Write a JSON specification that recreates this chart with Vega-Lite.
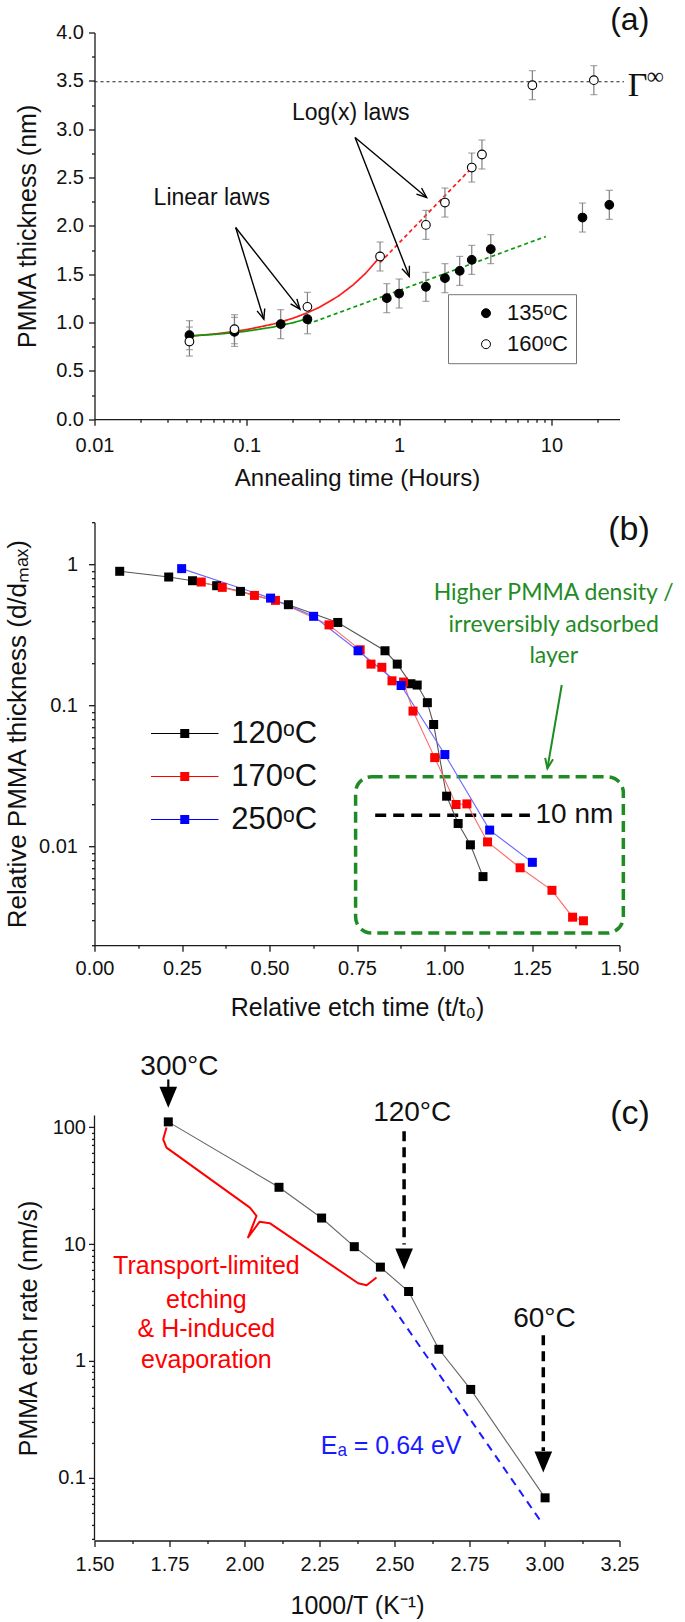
{
  "$schema": "https://vega.github.io/schema/vega-lite/v6.json",
  "background": "white",
  "padding": {"left": 3.5, "top": 3.5, "right": 0, "bottom": 0},
  "bounds": "flush",
  "spacing": 102.7,
  "resolve": {
    "scale": {"fill": "independent", "stroke": "independent", "color": "independent", "strokeDash": "independent"},
    "legend": {"fill": "independent", "stroke": "independent", "color": "independent"}
  },
  "config": {
    "view": {"stroke": null},
    "axis": {"grid": false, "domainColor": "#1a1a1a", "tickColor": "#1a1a1a", "domainWidth": 1.3, "tickWidth": 1.3,
      "labelFont": "Liberation Sans", "labelFontSize": 20, "labelColor": "#111", "titleFont": "Liberation Sans",
      "titleFontWeight": "normal", "titleFontSize": 25, "titleColor": "#111", "labelFlush": false, "labelOverlap": false},
    "legend": {"labelFont": "Liberation Sans", "labelColor": "#111", "labelLimit": 0},
    "text": {"font": "Liberation Sans"}
  },
  "datasets": {
    "a_points": [
      {"t": 0.042, "d": 0.869, "err": 0.15, "series": "135ᵒC"},
      {"t": 0.083, "d": 0.903, "err": 0.15, "series": "135ᵒC"},
      {"t": 0.167, "d": 0.983, "err": 0.15, "series": "135ᵒC"},
      {"t": 0.25, "d": 1.034, "err": 0.15, "series": "135ᵒC"},
      {"t": 0.83, "d": 1.252, "err": 0.15, "series": "135ᵒC"},
      {"t": 1.0, "d": 1.30, "err": 0.15, "series": "135ᵒC"},
      {"t": 1.5, "d": 1.369, "err": 0.15, "series": "135ᵒC"},
      {"t": 2.0, "d": 1.459, "err": 0.15, "series": "135ᵒC"},
      {"t": 2.5, "d": 1.534, "err": 0.15, "series": "135ᵒC"},
      {"t": 3.0, "d": 1.648, "err": 0.15, "series": "135ᵒC"},
      {"t": 4.0, "d": 1.759, "err": 0.15, "series": "135ᵒC"},
      {"t": 16, "d": 2.086, "err": 0.15, "series": "135ᵒC"},
      {"t": 24, "d": 2.217, "err": 0.15, "series": "135ᵒC"},
      {"t": 0.042, "d": 0.803, "err": 0.15, "series": "160ᵒC"},
      {"t": 0.083, "d": 0.931, "err": 0.15, "series": "160ᵒC"},
      {"t": 0.25, "d": 1.162, "err": 0.15, "series": "160ᵒC"},
      {"t": 0.75, "d": 1.683, "err": 0.15, "series": "160ᵒC"},
      {"t": 1.5, "d": 2.01, "err": 0.15, "series": "160ᵒC"},
      {"t": 2.0, "d": 2.241, "err": 0.15, "series": "160ᵒC"},
      {"t": 3.0, "d": 2.603, "err": 0.15, "series": "160ᵒC"},
      {"t": 3.5, "d": 2.738, "err": 0.15, "series": "160ᵒC"},
      {"t": 7.5, "d": 3.455, "err": 0.15, "series": "160ᵒC"},
      {"t": 19, "d": 3.507, "err": 0.15, "series": "160ᵒC"}
    ],
    "a_fits": [
      {"t": 0.042, "d": 0.860, "temp": "160", "law": "linear", "seg": "L160"},
      {"t": 0.06, "d": 0.880, "temp": "160", "law": "linear", "seg": "L160"},
      {"t": 0.08, "d": 0.904, "temp": "160", "law": "linear", "seg": "L160"},
      {"t": 0.1, "d": 0.927, "temp": "160", "law": "linear", "seg": "L160"},
      {"t": 0.15, "d": 0.985, "temp": "160", "law": "linear", "seg": "L160"},
      {"t": 0.2, "d": 1.043, "temp": "160", "law": "linear", "seg": "L160"},
      {"t": 0.25, "d": 1.101, "temp": "160", "law": "linear", "seg": "L160"},
      {"t": 0.3, "d": 1.158, "temp": "160", "law": "linear", "seg": "L160"},
      {"t": 0.4, "d": 1.274, "temp": "160", "law": "linear", "seg": "L160"},
      {"t": 0.5, "d": 1.390, "temp": "160", "law": "linear", "seg": "L160"},
      {"t": 0.6, "d": 1.506, "temp": "160", "law": "linear", "seg": "L160"},
      {"t": 0.75, "d": 1.680, "temp": "160", "law": "linear", "seg": "L160"},
      {"t": 0.042, "d": 0.860, "temp": "135", "law": "linear", "seg": "L135"},
      {"t": 0.06, "d": 0.876, "temp": "135", "law": "linear", "seg": "L135"},
      {"t": 0.08, "d": 0.893, "temp": "135", "law": "linear", "seg": "L135"},
      {"t": 0.1, "d": 0.911, "temp": "135", "law": "linear", "seg": "L135"},
      {"t": 0.15, "d": 0.954, "temp": "135", "law": "linear", "seg": "L135"},
      {"t": 0.2, "d": 0.997, "temp": "135", "law": "linear", "seg": "L135"},
      {"t": 0.25, "d": 1.040, "temp": "135", "law": "linear", "seg": "L135"},
      {"t": 0.75, "d": 1.62, "temp": "160", "law": "log", "seg": "G160"},
      {"t": 3.13, "d": 2.63, "temp": "160", "law": "log", "seg": "G160"},
      {"t": 0.25, "d": 0.983, "temp": "135", "law": "log", "seg": "G135"},
      {"t": 9.2, "d": 1.89, "temp": "135", "law": "log", "seg": "G135"}
    ],
    "a_gamma": [{"t": 0.01, "t2": 30, "d": 3.49}],
    "a_arrows": [
      {"t": 0.514, "d": 2.914, "t2": 1.517, "d2": 2.293},
      {"t": 0.514, "d": 2.914, "t2": 1.167, "d2": 1.476},
      {"t": 0.0845, "d": 1.983, "t2": 0.1294, "d2": 1.034},
      {"t": 0.0845, "d": 1.983, "t2": 0.2233, "d2": 1.138}
    ],
    "a_heads": [
      {"t": 1.517, "d": 2.293, "id": "a1"},
      {"t": 1.167, "d": 1.476, "id": "a2"},
      {"t": 0.1294, "d": 1.034, "id": "a3"},
      {"t": 0.2233, "d": 1.138, "id": "a4"}
    ],
    "a_text": [
      {"t": 0.481, "d": 3.166, "label": "Log(x) laws", "kind": "law"},
      {"t": 0.0589, "d": 2.29, "label": "Linear laws", "kind": "law"},
      {"t": 32.7, "d": 4.127, "label": "(a)", "kind": "panel"},
      {"t": 31.7, "d": 3.341, "label": "Γ", "kind": "gamma"},
      {"t": 42.2, "d": 3.465, "label": "∞", "kind": "inf"}
    ],
    "b_points": [
      {"etch_time": 0.072, "rel_thick": 0.897, "temp": "120ᵒC"},
      {"etch_time": 0.212, "rel_thick": 0.817, "temp": "120ᵒC"},
      {"etch_time": 0.280, "rel_thick": 0.769, "temp": "120ᵒC"},
      {"etch_time": 0.349, "rel_thick": 0.709, "temp": "120ᵒC"},
      {"etch_time": 0.417, "rel_thick": 0.646, "temp": "120ᵒC"},
      {"etch_time": 0.554, "rel_thick": 0.520, "temp": "120ᵒC"},
      {"etch_time": 0.695, "rel_thick": 0.389, "temp": "120ᵒC"},
      {"etch_time": 0.830, "rel_thick": 0.245, "temp": "120ᵒC"},
      {"etch_time": 0.865, "rel_thick": 0.197, "temp": "120ᵒC"},
      {"etch_time": 0.904, "rel_thick": 0.143, "temp": "120ᵒC"},
      {"etch_time": 0.922, "rel_thick": 0.140, "temp": "120ᵒC"},
      {"etch_time": 0.951, "rel_thick": 0.105, "temp": "120ᵒC"},
      {"etch_time": 0.969, "rel_thick": 0.0735, "temp": "120ᵒC"},
      {"etch_time": 1.006, "rel_thick": 0.0228, "temp": "120ᵒC"},
      {"etch_time": 1.039, "rel_thick": 0.0146, "temp": "120ᵒC"},
      {"etch_time": 1.074, "rel_thick": 0.0103, "temp": "120ᵒC"},
      {"etch_time": 1.110, "rel_thick": 0.00613, "temp": "120ᵒC"},
      {"etch_time": 0.305, "rel_thick": 0.753, "temp": "170ᵒC"},
      {"etch_time": 0.365, "rel_thick": 0.690, "temp": "170ᵒC"},
      {"etch_time": 0.457, "rel_thick": 0.605, "temp": "170ᵒC"},
      {"etch_time": 0.517, "rel_thick": 0.558, "temp": "170ᵒC"},
      {"etch_time": 0.670, "rel_thick": 0.374, "temp": "170ᵒC"},
      {"etch_time": 0.759, "rel_thick": 0.249, "temp": "170ᵒC"},
      {"etch_time": 0.790, "rel_thick": 0.197, "temp": "170ᵒC"},
      {"etch_time": 0.821, "rel_thick": 0.187, "temp": "170ᵒC"},
      {"etch_time": 0.850, "rel_thick": 0.150, "temp": "170ᵒC"},
      {"etch_time": 0.883, "rel_thick": 0.147, "temp": "170ᵒC"},
      {"etch_time": 0.910, "rel_thick": 0.0915, "temp": "170ᵒC"},
      {"etch_time": 0.972, "rel_thick": 0.0428, "temp": "170ᵒC"},
      {"etch_time": 1.033, "rel_thick": 0.0199, "temp": "170ᵒC"},
      {"etch_time": 1.064, "rel_thick": 0.0201, "temp": "170ᵒC"},
      {"etch_time": 1.123, "rel_thick": 0.0108, "temp": "170ᵒC"},
      {"etch_time": 1.216, "rel_thick": 0.00708, "temp": "170ᵒC"},
      {"etch_time": 1.307, "rel_thick": 0.0049, "temp": "170ᵒC"},
      {"etch_time": 1.366, "rel_thick": 0.00316, "temp": "170ᵒC"},
      {"etch_time": 1.397, "rel_thick": 0.00298, "temp": "170ᵒC"},
      {"etch_time": 0.249, "rel_thick": 0.937, "temp": "250ᵒC"},
      {"etch_time": 0.503, "rel_thick": 0.579, "temp": "250ᵒC"},
      {"etch_time": 0.626, "rel_thick": 0.430, "temp": "250ᵒC"},
      {"etch_time": 0.753, "rel_thick": 0.245, "temp": "250ᵒC"},
      {"etch_time": 0.876, "rel_thick": 0.139, "temp": "250ᵒC"},
      {"etch_time": 1.001, "rel_thick": 0.0450, "temp": "250ᵒC"},
      {"etch_time": 1.129, "rel_thick": 0.0131, "temp": "250ᵒC"},
      {"etch_time": 1.251, "rel_thick": 0.00774, "temp": "250ᵒC"}
    ],
    "b_box": [{"etch_time": 0.746, "etch_time2": 1.511, "rel_thick": 0.0313, "rel_thick2": 0.00244}],
    "b_tennm": [{"etch_time": 0.802, "etch_time2": 1.244, "rel_thick": 0.0167}],
    "b_arrow": [{"etch_time": 1.335, "rel_thick": 0.140, "etch_time2": 1.294, "rel_thick2": 0.0359}],
    "b_head": [{"etch_time": 1.294, "rel_thick": 0.0359}],
    "b_text": [
      {"etch_time": 1.312, "rel_thick": 0.564, "label": "Higher PMMA density /", "kind": "green"},
      {"etch_time": 1.312, "rel_thick": 0.332, "label": "irreversibly adsorbed", "kind": "green"},
      {"etch_time": 1.312, "rel_thick": 0.2, "label": "layer", "kind": "green"},
      {"etch_time": 1.26, "rel_thick": 0.0167, "label": "10 nm", "kind": "nm"},
      {"etch_time": 1.527, "rel_thick": 1.75, "label": "(b)", "kind": "panel"}
    ],
    "c_points": [
      {"inv_T": 1.746, "rate": 111},
      {"inv_T": 2.115, "rate": 30.6},
      {"inv_T": 2.257, "rate": 16.7},
      {"inv_T": 2.366, "rate": 9.5},
      {"inv_T": 2.453, "rate": 6.35},
      {"inv_T": 2.547, "rate": 3.93},
      {"inv_T": 2.648, "rate": 1.259},
      {"inv_T": 2.754, "rate": 0.571},
      {"inv_T": 3.002, "rate": 0.0675}
    ],
    "c_axis": [{"inv_T": 1.5, "rate": 0.02913, "rate2": 126}],
    "c_fit": [{"inv_T": 2.464, "rate": 3.73}, {"inv_T": 2.986, "rate": 0.0431}],
    "c_brace": [
      {"inv_T": 1.740, "rate": 99.3, "k": 1},
      {"inv_T": 1.729, "rate": 78.8, "k": 2},
      {"inv_T": 1.740, "rate": 66.9, "k": 3},
      {"inv_T": 2.018, "rate": 20.5, "k": 4},
      {"inv_T": 2.040, "rate": 17.4, "k": 5},
      {"inv_T": 2.012, "rate": 11.4, "k": 6},
      {"inv_T": 2.050, "rate": 15.5, "k": 7},
      {"inv_T": 2.084, "rate": 15.1, "k": 8},
      {"inv_T": 2.379, "rate": 4.62, "k": 9},
      {"inv_T": 2.407, "rate": 4.44, "k": 10},
      {"inv_T": 2.440, "rate": 5.17, "k": 11}
    ],
    "c_shafts": [
      {"inv_T": 1.746, "rate": 256, "rate2": 205, "id": "300"},
      {"inv_T": 2.532, "rate": 92.4, "rate2": 9.9, "id": "120"},
      {"inv_T": 2.996, "rate": 1.66, "rate2": 0.17, "id": "60"}
    ],
    "c_heads": [
      {"inv_T": 1.746, "rate": 146.6},
      {"inv_T": 2.532, "rate": 6.07},
      {"inv_T": 2.996, "rate": 0.111}
    ],
    "c_text": [
      {"inv_T": 1.783, "rate": 329, "label": "300°C", "kind": "temp"},
      {"inv_T": 2.559, "rate": 131, "label": "120°C", "kind": "temp"},
      {"inv_T": 3.0, "rate": 2.27, "label": "60°C", "kind": "temp"},
      {"inv_T": 3.285, "rate": 128.5, "label": "(c)", "kind": "panel"},
      {"inv_T": 1.873, "rate": 6.5, "label": "Transport-limited", "kind": "red"},
      {"inv_T": 1.873, "rate": 3.31, "label": "etching", "kind": "red"},
      {"inv_T": 1.873, "rate": 1.87, "label": "& H-induced", "kind": "red"},
      {"inv_T": 1.873, "rate": 1.02, "label": "evaporation", "kind": "red"},
      {"inv_T": 2.489, "rate": 0.1875, "label": "Eₐ = 0.64 eV", "kind": "blue"}
    ]
  },
  "vconcat": [
    {
      "width": 525,
      "height": 386.7,
      "encoding": {
        "x": {"field": "t", "type": "quantitative",
          "scale": {"type": "log", "domain": [0.01, 28], "nice": false},
          "axis": {"title": "Annealing time (Hours)",
            "values": [0.01,0.02,0.03,0.04,0.05,0.06,0.07,0.08,0.09,0.1,0.2,0.3,0.4,0.5,0.6,0.7,0.8,0.9,1,2,3,4,5,6,7,8,9,10,20],
            "labelExpr": "indexof([0.01,0.1,1,10], datum.value) >= 0 ? '' + datum.value : ''",
            "tickSize": {"condition": {"test": "indexof([0.01,0.1,1,10], datum.value) >= 0", "value": 6}, "value": 3},
            "labelPadding": 10, "titleY": 66.7, "titleBaseline": "alphabetic", "titleFontSize": 24}},
        "y": {"field": "d", "type": "quantitative",
          "scale": {"domain": [0, 4], "nice": false, "zero": false},
          "axis": {"title": "PMMA thickness (nm)",
            "values": [0,0.25,0.5,0.75,1,1.25,1.5,1.75,2,2.25,2.5,2.75,3,3.25,3.5,3.75,4],
            "labelExpr": "datum.value % 0.5 == 0 ? format(datum.value, '.1f') : ''",
            "tickSize": {"condition": {"test": "datum.value % 0.5 == 0", "value": 6}, "value": 3},
            "labelPadding": 5, "titleX": -59, "titleBaseline": "alphabetic", "titleFontSize": 25}}
      },
      "layer": [
        {"data": {"name": "a_gamma"}, "mark": {"type": "rule", "strokeDash": [3, 3], "color": "#222", "strokeWidth": 1.1},
          "encoding": {"x2": {"field": "t2"}}},
        {"data": {"name": "a_fits"}, "mark": {"type": "line", "strokeWidth": 1.7},
          "encoding": {
            "stroke": {"field": "temp", "type": "nominal", "scale": {"domain": ["135", "160"], "range": ["#0c9a0c", "#ff1a1a"]}, "legend": null},
            "strokeDash": {"field": "law", "type": "nominal", "scale": {"domain": ["linear", "log"], "range": [[1, 0], [4, 3]]}, "legend": null},
            "detail": {"field": "seg"}}},
        {"data": {"name": "a_points"}, "mark": {"type": "errorbar", "ticks": {"size": 7}, "color": "#808080", "thickness": 1.2},
          "encoding": {"yError": {"field": "err"}}},
        {"data": {"name": "a_points"}, "mark": {"type": "point", "shape": "circle", "size": 75, "filled": true, "stroke": "black", "strokeWidth": 1.1, "opacity": 1},
          "encoding": {"fill": {"field": "series", "type": "nominal",
            "scale": {"domain": ["135ᵒC", "160ᵒC"], "range": ["black", "white"]},
            "legend": {"title": null, "orient": "none", "legendX": 353.5, "legendY": 261.7, "strokeColor": "#777", "fillColor": "white",
              "padding": 8, "rowPadding": 9, "symbolType": "circle", "symbolSize": 80, "symbolStrokeColor": "black", "symbolStrokeWidth": 1,
              "symbolOffset": 19, "labelOffset": 10, "labelFontSize": 22}}}},
        {"data": {"name": "a_arrows"}, "mark": {"type": "rule", "color": "black", "strokeWidth": 1.4},
          "encoding": {"x2": {"field": "t2"}, "y2": {"field": "d2"}}},
        {"data": {"name": "a_heads"}, "transform": [{"filter": "datum.id == 'a1'"}],
          "mark": {"type": "point", "shape": "M-0.4,1L0,0L0.4,1", "size": 400, "filled": false, "color": "black", "strokeWidth": 1.4, "angle": 129.9, "opacity": 1}},
        {"data": {"name": "a_heads"}, "transform": [{"filter": "datum.id == 'a2'"}],
          "mark": {"type": "point", "shape": "M-0.4,1L0,0L0.4,1", "size": 400, "filled": false, "color": "black", "strokeWidth": 1.4, "angle": 158.6, "opacity": 1}},
        {"data": {"name": "a_heads"}, "transform": [{"filter": "datum.id == 'a3'"}],
          "mark": {"type": "point", "shape": "M-0.4,1L0,0L0.4,1", "size": 400, "filled": false, "color": "black", "strokeWidth": 1.4, "angle": 162.9, "opacity": 1}},
        {"data": {"name": "a_heads"}, "transform": [{"filter": "datum.id == 'a4'"}],
          "mark": {"type": "point", "shape": "M-0.4,1L0,0L0.4,1", "size": 400, "filled": false, "color": "black", "strokeWidth": 1.4, "angle": 141.7, "opacity": 1}},
        {"data": {"name": "a_text"}, "transform": [{"filter": "datum.kind == 'law'"}],
          "mark": {"type": "text", "fontSize": 23, "align": "center", "baseline": "middle", "color": "#111"},
          "encoding": {"text": {"field": "label"}}},
        {"data": {"name": "a_text"}, "transform": [{"filter": "datum.kind == 'panel'"}],
          "mark": {"type": "text", "fontSize": 32, "align": "center", "baseline": "middle", "color": "#111"},
          "encoding": {"text": {"field": "label"}}},
        {"data": {"name": "a_text"}, "transform": [{"filter": "datum.kind == 'gamma'"}],
          "mark": {"type": "text", "font": "Liberation Serif", "fontSize": 34, "align": "left", "baseline": "alphabetic", "color": "#111"},
          "encoding": {"text": {"field": "label"}}},
        {"data": {"name": "a_text"}, "transform": [{"filter": "datum.kind == 'inf'"}],
          "mark": {"type": "text", "font": "Liberation Serif", "fontSize": 24, "align": "left", "baseline": "alphabetic", "color": "#111"},
          "encoding": {"text": {"field": "label"}}}
      ]
    },
    {
      "width": 525,
      "height": 423,
      "encoding": {
        "x": {"field": "etch_time", "type": "quantitative",
          "scale": {"domain": [0, 1.5], "nice": false, "zero": false},
          "axis": {"title": "Relative etch time (t/t₀)",
            "values": [0,0.125,0.25,0.375,0.5,0.625,0.75,0.875,1,1.125,1.25,1.375,1.5],
            "labelExpr": "datum.value % 0.25 == 0 ? format(datum.value, '.2f') : ''",
            "tickSize": {"condition": {"test": "datum.value % 0.25 == 0", "value": 6}, "value": 3},
            "labelPadding": 7, "titleY": 70, "titleBaseline": "alphabetic", "titleFontSize": 25}},
        "y": {"field": "rel_thick", "type": "quantitative",
          "scale": {"type": "log", "domain": [0.002, 2], "nice": false},
          "axis": {"title": "Relative PMMA thickness (d/dₘₐₓ)",
            "values": [0.002,0.003,0.004,0.005,0.006,0.007,0.008,0.009,0.01,0.02,0.03,0.04,0.05,0.06,0.07,0.08,0.09,0.1,0.2,0.3,0.4,0.5,0.6,0.7,0.8,0.9,1,2],
            "labelExpr": "indexof([0.01,0.1,1], datum.value) >= 0 ? '' + datum.value : ''",
            "tickSize": {"condition": {"test": "indexof([0.01,0.1,1], datum.value) >= 0", "value": 6}, "value": 3},
            "labelPadding": 11, "titleX": -69, "titleBaseline": "alphabetic", "titleFontSize": 26}}
      },
      "layer": [
        {"data": {"name": "b_box"}, "mark": {"type": "rect", "filled": false, "color": "#1f8b24", "strokeWidth": 3.5, "strokeDash": [11, 6], "cornerRadius": 16},
          "encoding": {"x2": {"field": "etch_time2"}, "y2": {"field": "rel_thick2"}}},
        {"data": {"name": "b_tennm"}, "mark": {"type": "rule", "color": "black", "strokeWidth": 3.5, "strokeDash": [11, 7]},
          "encoding": {"x2": {"field": "etch_time2"}}},
        {"data": {"name": "b_points"}, "mark": {"type": "line", "strokeWidth": 1.1},
          "encoding": {"stroke": {"field": "temp", "type": "nominal",
            "scale": {"range": ["#555555", "#ff6a6a", "#6a6aff"]}, "legend": null}}},
        {"data": {"name": "b_points"}, "mark": {"type": "point", "shape": "square", "size": 81, "filled": true, "opacity": 1},
          "encoding": {"fill": {"field": "temp", "type": "nominal",
            "scale": {"domain": ["120ᵒC", "170ᵒC", "250ᵒC"], "range": ["#000000", "#ff0000", "#0000ff"]},
            "legend": {"title": null, "orient": "none", "legendX": 74.75, "legendY": 195.8, "padding": 0, "rowPadding": 11,
              "symbolType": "M-3,-0.05L3,-0.05L3,0.05L-3,0.05ZM-0.4,-0.4L0.4,-0.4L0.4,0.4L-0.4,0.4Z",
              "symbolSize": 506, "symbolStrokeWidth": 0, "labelOffset": 31, "labelFontSize": 31}}}},
        {"data": {"name": "b_arrow"}, "mark": {"type": "rule", "color": "#1f8b24", "strokeWidth": 2},
          "encoding": {"x2": {"field": "etch_time2"}, "y2": {"field": "rel_thick2"}}},
        {"data": {"name": "b_head"},
          "mark": {"type": "point", "shape": "M-0.4,1L0,0L0.4,1", "size": 400, "filled": false, "color": "#1f8b24", "strokeWidth": 2, "angle": 189.8, "opacity": 1}},
        {"data": {"name": "b_text"}, "transform": [{"filter": "datum.kind == 'green'"}],
          "mark": {"type": "text", "font": "Lato", "fontSize": 23, "align": "center", "baseline": "alphabetic", "color": "#1f8b24"},
          "encoding": {"text": {"field": "label"}}},
        {"data": {"name": "b_text"}, "transform": [{"filter": "datum.kind == 'nm'"}],
          "mark": {"type": "text", "fontSize": 28, "align": "left", "baseline": "middle", "color": "#111"},
          "encoding": {"text": {"field": "label"}}},
        {"data": {"name": "b_text"}, "transform": [{"filter": "datum.kind == 'panel'"}],
          "mark": {"type": "text", "fontSize": 34, "align": "center", "baseline": "middle", "color": "#111"},
          "encoding": {"text": {"field": "label"}}}
      ]
    },
    {
      "width": 525,
      "height": 492.6,
      "encoding": {
        "x": {"field": "inv_T", "type": "quantitative",
          "scale": {"domain": [1.5, 3.25], "nice": false, "zero": false},
          "axis": {"title": "1000/T (K⁻¹)",
            "values": [1.5,1.625,1.75,1.875,2,2.125,2.25,2.375,2.5,2.625,2.75,2.875,3,3.125,3.25],
            "labelExpr": "datum.value % 0.25 == 0 ? format(datum.value, '.2f') : ''",
            "tickSize": {"condition": {"test": "datum.value % 0.25 == 0", "value": 6}, "value": 3},
            "labelPadding": 8, "titleY": 73, "titleBaseline": "alphabetic", "titleFontSize": 25}},
        "y": {"field": "rate", "type": "quantitative",
          "scale": {"type": "log", "domain": [0.02913, 476.6], "nice": false},
          "axis": {"title": "PMMA etch rate (nm/s)", "domain": false,
            "values": [0.03,0.04,0.05,0.06,0.07,0.08,0.09,0.1,0.2,0.3,0.4,0.5,0.6,0.7,0.8,0.9,1,2,3,4,5,6,7,8,9,10,20,30,40,50,60,70,80,90,100],
            "labelExpr": "indexof([0.1,1,10,100], datum.value) >= 0 ? '' + datum.value : ''",
            "tickSize": {"condition": {"test": "indexof([0.1,1,10,100], datum.value) >= 0", "value": 6}, "value": 3},
            "labelPadding": 3, "titleX": -58, "titleY": 280, "titleBaseline": "alphabetic", "titleFontSize": 25}}
      },
      "layer": [
        {"data": {"name": "c_axis"}, "mark": {"type": "rule", "color": "#1a1a1a", "strokeWidth": 1.3},
          "encoding": {"y2": {"field": "rate2"}}},
        {"data": {"name": "c_fit"}, "mark": {"type": "line", "color": "#1a1aff", "strokeWidth": 2, "strokeDash": [8, 6]}},
        {"data": {"name": "c_points"}, "mark": {"type": "line", "color": "#666", "strokeWidth": 1.1}},
        {"data": {"name": "c_points"}, "mark": {"type": "point", "shape": "square", "size": 81, "filled": true, "color": "black", "opacity": 1}},
        {"data": {"name": "c_brace"}, "mark": {"type": "line", "color": "#ff0000", "strokeWidth": 2, "strokeJoin": "round"},
          "encoding": {"order": {"field": "k", "type": "quantitative"}}},
        {"data": {"name": "c_shafts"}, "transform": [{"filter": "datum.id == '300'"}],
          "mark": {"type": "rule", "color": "black", "strokeWidth": 2.2},
          "encoding": {"y2": {"field": "rate2"}}},
        {"data": {"name": "c_shafts"}, "transform": [{"filter": "datum.id != '300'"}],
          "mark": {"type": "rule", "color": "black", "strokeWidth": 3.5, "strokeDash": [10, 6]},
          "encoding": {"y2": {"field": "rate2"}}},
        {"data": {"name": "c_heads"},
          "mark": {"type": "point", "shape": "M-0.42,-1L0.42,-1L0,0Z", "size": 1764, "filled": true, "color": "black", "opacity": 1}},
        {"data": {"name": "c_text"}, "transform": [{"filter": "datum.kind == 'temp'"}],
          "mark": {"type": "text", "fontSize": 28, "align": "center", "baseline": "middle", "color": "#111"},
          "encoding": {"text": {"field": "label"}}},
        {"data": {"name": "c_text"}, "transform": [{"filter": "datum.kind == 'panel'"}],
          "mark": {"type": "text", "fontSize": 34, "align": "center", "baseline": "middle", "color": "#111"},
          "encoding": {"text": {"field": "label"}}},
        {"data": {"name": "c_text"}, "transform": [{"filter": "datum.kind == 'red'"}],
          "mark": {"type": "text", "fontSize": 25, "align": "center", "baseline": "middle", "color": "#ff0000"},
          "encoding": {"text": {"field": "label"}}},
        {"data": {"name": "c_text"}, "transform": [{"filter": "datum.kind == 'blue'"}],
          "mark": {"type": "text", "fontSize": 25, "align": "center", "baseline": "middle", "color": "#1a1aff"},
          "encoding": {"text": {"field": "label"}}}
      ]
    }
  ]
}
